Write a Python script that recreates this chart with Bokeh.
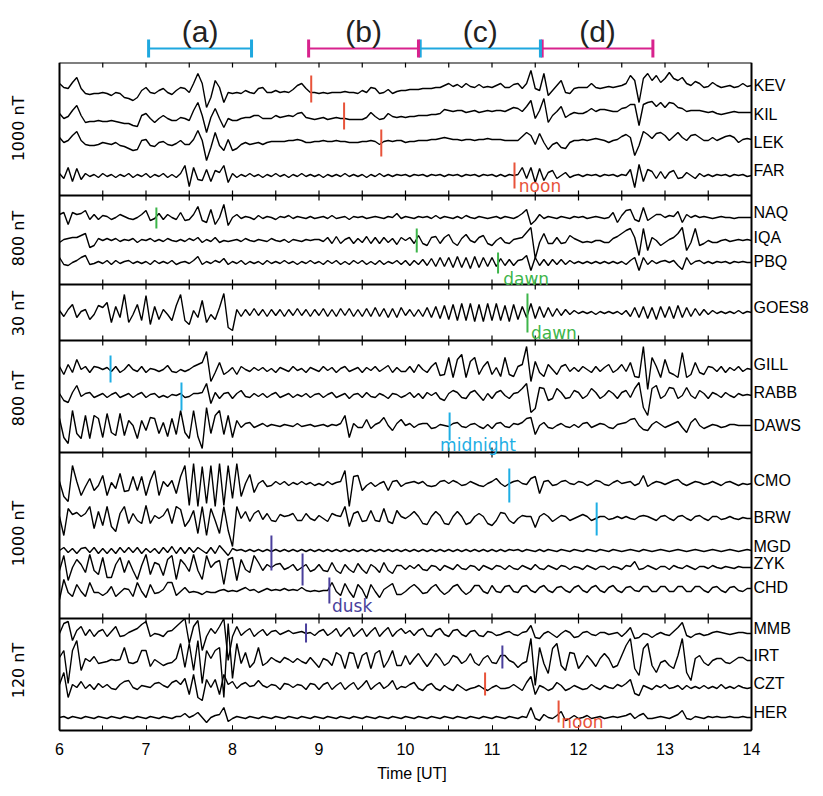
import numpy as np
from bokeh.plotting import figure
from bokeh.models import Range1d, Label, Span, SingleIntervalTicker
from bokeh.layouts import column
from bokeh.embed import file_html
from bokeh.resources import INLINE

T_START, T_STEP, N_SAMPLES = 6.0, 0.05, 161

KEV = [9,5,4,10,15,4,-1,-2,-1,-1,0,-1,-3,0,-1,-5,-6,-8,-5,2,
       5,0,-1,2,4,0,-2,2,5,4,0,9,19,9,-15,-5,12,5,-10,0,
       -1,0,-1,2,0,-1,4,5,0,0,2,0,1,0,3,7,9,4,0,0,
       -1,0,-1,0,0,0,1,0,0,-1,2,0,5,4,-1,0,3,-1,1,2,
       2,3,3,3,4,4,4,5,5,7,9,6,8,5,9,6,5,8,5,6,
       5,7,9,5,5,8,9,4,9,22,4,2,19,-3,2,7,12,0,-1,4,
       5,5,5,9,5,4,5,6,5,6,7,9,17,12,-10,14,19,12,17,10,
       14,20,14,12,15,9,7,11,9,5,6,10,7,5,6,7,5,6,9,6,
       7]
KIL = [7,2,4,10,15,5,-2,-1,-1,0,-1,-1,0,-1,-2,-3,-3,-5,-6,5,
       7,2,-2,2,5,2,0,0,3,2,0,10,18,5,-12,3,12,2,-7,2,
       0,0,2,3,3,5,5,2,2,2,5,3,4,5,4,7,8,3,2,1,
       2,3,1,2,3,2,2,1,1,1,1,3,8,4,1,2,7,4,3,4,
       3,4,4,5,5,5,6,6,7,11,10,9,10,10,8,9,10,8,9,10,
       9,10,10,9,11,13,12,9,14,20,2,10,22,-2,5,9,14,3,6,8,
       7,7,9,12,9,11,11,10,9,9,12,13,16,16,-5,16,18,19,14,18,
       13,18,17,13,12,9,10,10,10,9,8,9,7,6,7,8,9,8,8,8,
       8]
LEK = [5,0,2,7,11,2,-2,-3,-3,-2,0,-1,-2,0,-3,-4,-6,-8,-7,2,
       3,-3,-4,0,1,-2,-3,-1,2,-2,-2,3,12,2,-18,-5,10,-3,-8,3,
       -8,-6,-2,0,-2,-1,0,-2,0,1,1,1,1,2,2,3,2,0,0,1,
       1,2,1,1,2,1,1,0,0,0,1,1,2,1,-2,1,2,1,2,2,
       0,1,1,2,2,2,3,3,4,5,4,3,3,2,3,3,2,3,3,4,
       3,3,3,2,2,2,2,6,10,7,-2,9,0,-7,-2,0,-5,-6,0,2,
       2,3,2,3,4,3,2,0,2,3,6,8,5,-13,-3,11,8,4,9,10,
       7,2,6,10,5,2,7,8,5,2,2,5,2,4,6,7,5,0,3,4,
       3]
FAR = [2,-3,8,-6,7,-4,2,-1,1,-2,2,-1,1,-2,1,-1,2,-2,1,-1,
       2,-2,1,-1,2,-2,1,-2,2,10,-11,8,-4,-5,6,-6,5,3,10,-7,
       2,-2,1,-1,2,-1,1,-2,1,-1,2,-1,1,-2,1,-1,2,-1,1,-1,
       1,-2,1,-1,1,-1,2,-1,1,-1,1,-2,1,-1,2,-1,1,-1,1,0,
       1,-1,1,0,1,-1,1,0,1,-1,1,0,1,-1,1,0,1,-1,1,0,
       1,-1,1,-1,1,0,1,8,-3,8,-7,7,-5,3,5,-3,0,3,-2,0,
       1,-1,1,0,1,-1,1,0,1,-1,1,0,6,-12,11,-6,6,4,-3,4,
       -3,3,5,-3,-2,3,0,-3,2,-1,1,-1,1,0,1,-1,1,0,1,-1,
       0]
NAQ = [3,5,-7,5,3,4,7,-2,3,-2,2,1,-2,0,3,1,-1,-2,0,3,
       7,-3,-1,4,-2,3,0,-2,5,-3,-2,3,11,-3,-5,8,-7,0,13,-8,
       0,3,-1,1,0,-2,2,-1,1,0,-2,1,0,2,-1,1,0,-1,1,-1,
       0,1,-1,2,-1,0,1,-2,1,0,1,-1,0,1,0,-1,1,0,4,-1,
       1,0,-1,1,0,1,-1,2,-1,1,0,-1,1,-1,2,0,-1,1,0,-1,
       0,1,-1,1,0,-1,1,4,8,-7,-3,3,-1,1,0,-1,1,0,-1,1,
       0,1,-1,0,1,0,-1,0,5,-5,2,7,8,-2,-4,10,-3,0,3,3,
       0,2,1,6,-5,3,0,2,0,1,0,-1,0,1,0,0,-1,0,0,0,
       0]
IQA = [-2,1,2,3,3,5,7,-7,-5,2,0,2,0,2,-1,1,0,2,-2,1,
       0,2,-1,1,-1,2,0,-1,1,-1,2,0,3,-2,1,-1,3,-2,0,-1,
       0,1,-1,2,0,-1,1,0,-1,2,0,-1,1,-2,1,0,-1,1,0,1,
       1,-1,3,-3,4,-3,1,3,-3,2,-2,4,-3,3,-3,3,-2,2,-4,3,
       0,3,-3,5,-3,-5,3,4,-3,3,6,-2,-5,2,6,0,-2,3,5,-3,
       -5,0,3,-2,-3,1,2,3,8,13,-18,-2,7,-3,-3,3,-3,-2,5,2,
       0,-2,-1,-2,0,0,-2,-2,2,4,7,10,12,3,-15,12,-10,3,0,-5,
       -2,1,3,7,13,-10,-2,12,-5,-3,0,-2,-2,0,1,-1,0,1,0,1,
       0]
PBQ = [5,-2,-3,0,2,5,7,-2,-1,1,-1,2,-2,2,-1,1,2,-1,1,-1,
       1,-2,2,-1,1,-1,2,-2,0,1,-1,2,6,-2,1,-1,2,0,4,-2,
       1,-1,2,-2,1,-1,1,-2,2,-1,1,-1,2,-1,1,-2,1,-1,2,-1,
       1,-2,2,-1,2,-2,1,-2,2,-1,2,-2,1,-2,2,-2,1,-1,2,-2,
       2,-3,2,-2,3,-3,4,-4,5,-4,5,-5,6,-5,5,-6,6,-5,5,-4,
       5,-4,4,-3,3,-3,2,3,7,-8,5,-3,3,-3,3,-2,3,-2,2,-1,
       1,-1,1,-1,1,-1,1,-1,1,-1,1,-2,2,5,-8,5,-2,2,-1,1,
       2,0,2,-3,-7,5,-2,1,2,-1,1,-1,1,0,1,-1,1,0,1,0,
       0]
GOES8 = [2,-4,3,8,-5,1,3,-7,-2,7,5,10,-10,6,-5,18,-10,-2,8,-8,
         17,-12,6,-7,3,-2,-8,7,18,-8,-12,2,-5,12,-10,-2,-7,5,19,-15,
         -18,3,-4,3,-3,4,-3,3,-4,3,-3,3,-4,3,-3,4,-3,3,-4,3,
         -3,4,-4,3,-4,4,-3,4,-4,3,-4,4,-4,5,-4,4,-5,4,-5,5,
         -3,3,-4,3,-4,5,-5,6,-6,7,-7,8,-8,9,-8,9,-9,8,-9,9,
         -8,9,-8,7,-9,8,-7,6,-5,9,-6,6,-5,5,-4,4,-3,3,-2,2,
         -1,1,-1,1,-2,1,-1,1,-1,1,-2,2,-4,5,-5,6,-6,5,-7,6,
         -5,6,-6,7,-5,5,-4,4,-3,3,-2,2,-1,1,-1,1,-1,2,-1,1,
         0]
GILL = [3,-5,5,-3,10,0,3,-3,3,2,0,2,-2,3,-3,0,5,0,-2,3,
        -3,1,0,-2,0,4,-2,-3,0,-2,0,3,5,7,18,-12,-3,7,-5,-2,
        2,-5,3,0,-2,2,-1,2,-2,1,-3,2,0,-2,3,-1,1,-3,2,0,
        -2,3,-1,2,-3,1,3,-2,0,2,-3,2,-1,3,-2,1,4,-3,2,-2,
        -2,3,-3,5,0,-3,3,7,-6,-5,12,-8,10,15,-8,8,12,-5,3,8,
        -5,2,-7,12,-5,-7,3,5,23,-12,8,-3,-7,5,0,-5,3,5,-2,2,
        -2,3,0,-3,3,-2,2,5,-3,0,5,-2,7,-7,-8,23,-20,12,3,-8,
        10,-3,-5,-8,17,-8,-5,7,-3,-5,3,2,-2,3,-3,2,-1,3,-2,1,
        0]
RABB = [2,-5,-7,3,10,-1,2,3,-2,0,2,-2,1,3,-2,0,2,-2,1,3,
        -2,1,2,-2,0,-2,1,0,2,-2,-1,2,2,3,12,-8,3,-3,2,3,
        -3,2,5,-1,-2,2,-1,2,-2,1,3,-2,0,2,-2,1,-1,2,-2,1,
        2,-2,1,3,-2,0,2,-3,1,2,-2,3,-1,-2,2,0,-3,2,1,-2,
        0,3,-2,2,-3,3,0,3,-3,-5,2,5,3,-2,-3,3,5,0,-5,2,
        -3,3,5,0,-3,2,3,7,12,-17,-13,8,7,-5,-3,7,3,-3,-2,5,
        3,-3,0,7,3,-3,0,5,2,-3,3,5,-2,7,13,-12,-20,7,10,-3,
        0,8,7,-3,0,8,0,-3,5,2,-3,3,1,-2,3,0,-2,2,0,1,
        0]
DAWS = [7,-12,-18,15,-8,-13,10,-13,10,7,-12,12,-7,-10,12,-10,5,0,-13,5,
        -5,8,7,-8,3,-11,7,-9,15,-7,-13,15,-11,-23,18,-8,10,15,-9,10,
        -12,5,-2,2,3,-2,0,2,-1,1,0,-1,1,0,-1,2,-1,0,1,-1,
        0,1,-1,1,0,2,10,-12,2,-2,-2,6,-3,1,3,8,0,-5,2,6,
        0,2,-2,1,2,2,-3,-2,1,0,-1,2,3,-1,-2,1,2,-1,-3,1,
        -3,2,3,-1,-2,2,1,3,7,8,-9,0,3,-2,-3,0,2,-1,-2,1,
        -2,2,3,-2,0,2,1,-2,-3,1,2,3,6,7,0,-4,-5,1,4,1,
        -2,0,2,4,-2,-7,3,7,0,-3,-1,1,0,-2,-1,1,1,0,0,0,
        0]
CMO = [2,-13,-18,18,2,-12,-3,5,-7,-2,8,-12,1,-5,10,-8,-7,7,-7,7,
       -12,3,13,-12,2,-3,3,-10,7,18,-22,20,-23,17,-20,18,-23,20,-22,18,
       -15,20,-13,0,9,-9,0,3,-3,-2,2,-1,2,-2,1,-1,2,-1,1,-2,
       0,-2,2,-1,1,2,13,-23,7,8,-7,-2,1,-3,0,2,-7,2,3,-3,
       0,1,2,0,2,-2,-3,-2,2,3,0,3,1,-2,-1,2,0,-2,-3,0,
       2,5,0,-3,0,2,3,0,-1,5,7,-10,2,3,-2,-1,2,3,0,-1,
       2,1,-2,0,3,2,-1,-2,1,3,0,1,2,-2,0,8,-3,0,2,1,
       -1,1,3,4,0,-2,0,2,1,-1,0,2,0,-2,1,2,0,-2,0,-1,
       0]
BRW = [2,-17,10,4,6,2,5,12,-10,7,-7,12,-8,-13,5,12,-5,5,-2,-5,
       13,-5,3,0,3,10,-5,12,9,-8,-2,8,-15,12,-17,10,-2,-15,12,-12,
       -28,12,0,7,-3,5,8,-1,5,-2,-3,4,2,3,5,-2,-2,5,0,-2,
       3,0,-3,5,3,2,12,-8,5,7,-3,-2,8,-2,-3,10,-3,-5,8,2,
       0,3,7,2,-5,-6,2,7,3,-5,-6,2,7,2,-6,-4,2,5,2,-5,
       -7,-2,6,5,-2,-5,0,3,2,2,-9,2,5,2,-3,0,3,2,-2,0,
       2,4,2,-2,0,2,2,-1,0,2,0,2,0,-1,2,3,2,0,-2,2,
       3,0,-2,2,3,0,-2,2,3,0,-2,2,2,-1,0,2,0,-1,1,0,
       0]
MGD = [0,3,-2,2,-3,2,3,-2,3,-3,2,-3,2,-3,3,-2,3,-2,3,-3,
       2,-2,2,-3,3,-2,4,-3,3,-3,3,-2,3,0,-3,3,-3,5,0,-5,
       2,0,1,-1,1,-1,1,-1,1,-1,1,-1,1,-1,1,-1,1,-1,1,-1,
       1,-1,1,-1,1,-1,1,-1,1,-1,1,-1,1,-1,1,-1,1,-1,1,-1,
       1,-1,1,-1,1,-1,1,-1,1,-1,1,-1,1,-1,1,-1,1,-1,1,-1,
       1,-1,1,-1,1,0,1,-1,1,0,-1,1,-1,1,0,-1,1,0,-1,1,
       0,-1,1,0,-1,1,0,-1,1,0,-1,0,1,0,-1,1,0,-1,0,1,
       0,-1,0,1,0,-1,0,1,0,-1,0,1,0,-1,0,1,0,-1,0,1,
       0]
ZYK = [-3,12,-13,0,8,3,-5,13,-3,-7,10,-10,-10,3,10,-5,7,-3,-12,2,
       13,-7,5,3,-8,8,12,-12,8,3,-4,13,-3,-12,12,0,5,7,-17,8,
       10,-13,8,-2,-5,12,5,-3,3,0,3,4,-2,0,3,-3,0,3,-4,-2,
       3,-3,-4,5,-3,-6,3,-2,-5,4,-2,-6,3,0,-5,5,-3,-6,2,2,
       -2,2,-1,3,-2,-3,2,1,-3,2,0,-2,3,-1,-2,2,1,-3,2,0,
       -2,2,1,-2,2,-1,-2,2,0,-2,3,-1,-2,2,0,-2,2,1,-2,1,
       0,-2,2,0,-2,1,1,-2,1,0,-2,2,1,6,-2,-1,2,0,-2,1,
       1,-2,2,0,-1,2,0,-2,1,1,-1,2,0,-1,1,0,-1,1,0,0,
       0]
CHD = [-10,10,-3,-7,5,-2,-7,7,-3,-3,-6,-3,3,-7,-3,1,0,-7,7,-2,
       -8,5,-4,-3,0,7,7,-6,-2,2,-3,-2,-3,-5,-2,-3,-3,-1,0,-2,
       -1,-2,0,2,-1,0,-3,-1,1,-1,0,-1,1,-1,0,-1,2,-1,-2,-1,
       -2,-1,-1,7,-2,-6,6,-2,-8,5,0,-9,5,-2,-8,0,3,6,-5,-5,
       -2,2,5,1,-4,-3,2,5,-1,-5,-2,3,5,-1,-5,-2,4,4,-2,-4,
       4,-2,-3,3,4,-2,-3,3,4,-1,-3,2,4,-1,-3,2,3,-1,-3,2,
       4,-1,-3,2,4,-1,-3,2,4,-1,-3,2,3,-1,-2,3,3,-2,-2,3,
       3,-2,-2,3,3,-2,-2,3,3,-1,-3,2,3,-1,-3,2,3,-1,-2,1,
       1]
MMB = [0,10,12,-7,3,7,-2,4,-3,2,4,-3,2,7,-3,-2,1,3,5,9,
       12,-3,0,-1,-3,2,3,7,11,15,-10,7,13,-17,-3,5,0,7,15,-27,
       -3,7,-2,2,5,-3,1,4,-2,2,3,-1,1,3,0,1,2,0,1,-2,
       2,4,-2,1,5,-3,2,6,-3,1,5,-3,2,6,-3,2,6,-3,2,5,
       0,3,-2,3,5,-2,-3,3,5,-1,-3,3,4,-1,-3,2,3,-2,-3,2,
       1,-2,-1,1,2,-1,-2,1,2,8,-4,-5,0,2,-1,-4,0,3,1,-4,
       -3,1,2,-1,-2,1,1,-1,0,1,-3,1,6,-5,-4,0,-1,-4,-1,1,
       -1,-2,2,6,11,-2,-4,-1,0,-2,-1,1,2,1,0,-1,0,1,1,0,
       0]
IRT = [3,10,-23,10,20,-10,2,-1,4,-3,-2,-1,1,0,1,13,-2,-3,-1,10,
       10,-6,1,-2,-5,-3,-2,2,17,-7,17,-10,20,-23,10,2,10,13,-37,37,
       -18,17,-3,8,-7,-2,13,-5,-2,3,0,-2,3,1,-2,2,-1,-3,3,-2,
       -7,2,0,-5,8,5,-8,8,7,-8,5,8,-8,7,10,-7,0,10,-5,-5,
       5,-4,2,7,0,-6,0,7,2,-5,-2,5,3,-3,0,7,-2,-5,2,5,
       -2,-3,5,5,0,-2,-7,-3,-1,22,-25,13,-3,-13,12,17,-5,-10,8,7,
       -8,-2,5,0,-6,2,7,2,-7,-5,5,15,22,-8,-15,12,17,-5,-12,-2,
       0,-5,-8,5,22,-12,-20,2,5,-2,-5,0,2,2,-2,-3,0,3,3,0,
       0]
CZT = [3,15,-10,3,0,6,-1,3,-2,4,0,3,-1,-2,3,6,7,0,-2,2,
       1,0,4,5,2,0,5,7,3,9,-7,13,-10,-13,8,0,8,-7,13,3,
       6,-1,3,5,1,2,7,2,0,3,2,-2,4,3,0,3,2,-2,4,3,
       -2,3,5,-2,2,5,-2,2,5,-2,2,7,-2,2,5,-1,2,7,-2,1,
       0,3,5,-1,-3,2,4,-1,-3,2,-1,-3,3,0,-3,-1,0,2,-1,-3,
       0,2,-1,-1,0,3,0,-3,5,11,-7,2,0,-3,-1,5,2,-3,-1,2,
       0,-2,-1,3,0,-2,2,0,-1,3,1,4,8,-6,-8,2,0,-2,2,0,
       3,-1,0,2,-2,2,-1,1,-1,2,-1,1,-1,3,-1,1,-1,2,0,-1,
       0]
HER = [0,1,-1,1,0,-1,1,0,-1,1,0,-1,1,0,-1,1,0,-1,1,0,
       -1,1,0,-1,1,0,-1,1,1,4,0,2,5,0,-5,0,2,3,10,-4,
       -1,1,0,-1,1,0,-1,1,0,-1,1,0,-1,1,0,-1,1,0,-1,1,
       0,-1,1,0,-1,1,0,-1,1,0,-1,1,0,-1,1,0,-1,1,0,-1,
       1,0,-1,1,0,-1,1,0,-1,1,0,-1,1,0,-1,1,0,-1,1,0,
       -1,1,0,-1,1,0,-1,1,0,10,-1,-3,3,0,-1,2,6,-3,-1,2,
       -1,0,2,-1,0,1,-1,0,1,0,1,2,4,-1,2,4,-1,-1,0,1,
       0,-1,1,3,7,-1,-2,1,0,-1,1,0,1,0,0,1,0,0,1,0,
       0]

stations = ["KEV", "KIL", "LEK", "FAR", "NAQ", "IQA", "PBQ", "GOES8", "GILL", "RABB", "DAWS",
            "CMO", "BRW", "MGD", "ZYK", "CHD", "MMB", "IRT", "CZT", "HER"]
series = [KEV, KIL, LEK, FAR, NAQ, IQA, PBQ, GOES8, GILL, RABB, DAWS,
          CMO, BRW, MGD, ZYK, CHD, MMB, IRT, CZT, HER]

panel_scales = ["1000 nT", "800 nT", "30 nT", "800 nT", "1000 nT", "120 nT"]

period_names = ["(a)", "(b)", "(c)", "(d)"]
period_start = [7.03, 8.88, 10.17, 11.58]
period_end = [8.22, 10.15, 11.56, 12.86]

marker_time = [8.91, 9.29, 9.72, 11.26, 7.12, 10.13, 11.07, 11.41, 6.59, 7.41,
               10.51, 11.20, 12.21, 8.45, 8.81, 9.12, 8.85, 11.12, 10.92, 11.77]
marker_kind = ["noon", "noon", "noon", "noon", "dawn", "dawn", "dawn", "dawn", "midnight", "midnight",
               "midnight", "midnight", "midnight", "dusk", "dusk", "dusk", "dusk", "dusk", "noon", "noon"]

# ---------------- layout (pixel positions on the page) ----------------
W, H = 823, 796
FRAME_L, FRAME_R = 59, 751            # page x of 6 UT and 14 UT
PX_PER_H = (FRAME_R - FRAME_L) / 8.0
baseline = [92, 120, 142, 175, 217, 240, 262, 312, 369, 395, 425,
            483, 518, 550, 567, 589, 633, 660, 687, 717]
label_y = [85, 114, 142, 170, 212, 237, 261, 307, 364, 392, 425,
           480, 517, 546, 563, 587, 628, 655, 683, 712]
panel_edges = [62, 195, 284, 340, 452, 618, 730]
scale_y = [128, 238, 313, 398, 533, 670]
marker_top = [75, 102, 129, 162, 207, 228, 252, 293, 355, 382, 412, 468, 502, 535, 553, 577, 623, 645, 672, 700]
marker_bot = [102, 129, 156, 188, 228, 252, 273, 332, 382, 410, 440, 502, 535, 570, 585, 603, 642, 668, 695, 722]
kind_color = {"noon": "#e8533a", "dawn": "#3db54a", "midnight": "#1eaee4", "dusk": "#4a3f9c"}
word_pos = [("noon", 11.31, 185), ("dawn", 11.13, 278), ("dawn", 11.45, 332),
            ("midnight", 10.40, 444), ("dusk", 9.15, 605), ("noon", 11.80, 721)]
period_colors = ["#1fa8df", "#d8228d", "#1fa8df", "#d8228d"]

TOP_H = 60
MAIN_TOP_BORDER = 2
MAIN_FRAME_H = panel_edges[-1] - panel_edges[0]
MAIN_BOTTOM_BORDER = H - TOP_H - MAIN_TOP_BORDER - MAIN_FRAME_H
TICK = 5

times = np.round(T_START + T_STEP * np.arange(N_SAMPLES), 3)

x_lo = 6 - FRAME_L / PX_PER_H
x_hi = 14 + (W - FRAME_R) / PX_PER_H
xr = Range1d(x_lo, x_hi)

def px_to_x(px):
    return x_lo + px / PX_PER_H

# ---------------- top strip with the interval brackets ----------------
pt = figure(x_range=xr, y_range=Range1d(TOP_H, 0), frame_width=W, frame_height=TOP_H,
            min_border_left=0, min_border_right=0, min_border_top=0, min_border_bottom=0,
            x_axis_location=None, y_axis_location=None, output_backend="svg", toolbar_location=None)
pt.outline_line_color = None
pt.xgrid.visible = False
pt.ygrid.visible = False
pt.segment(x0=period_start, y0=[48] * 4, x1=period_end, y1=[48] * 4, line_color=period_colors, line_width=2)
pt.segment(x0=period_start, y0=[39] * 4, x1=period_start, y1=[57] * 4, line_color=period_colors, line_width=3)
pt.segment(x0=period_end, y0=[39] * 4, x1=period_end, y1=[57] * 4, line_color=period_colors, line_width=3)
for name, a, b in zip(period_names, period_start, period_end):
    pt.add_layout(Label(x=(a + b) / 2, y=31, text=name, text_align="center", text_baseline="middle",
                        text_font="Liberation Sans", text_font_size="30px", text_color="#222222"))

# ---------------- main stacked panels ----------------
p = figure(x_range=xr, y_range=Range1d(panel_edges[-1], panel_edges[0]), frame_width=W, frame_height=MAIN_FRAME_H,
           min_border_left=0, min_border_right=0, min_border_top=MAIN_TOP_BORDER,
           min_border_bottom=MAIN_BOTTOM_BORDER,
           y_axis_location=None, output_backend="svg", toolbar_location=None)
p.xgrid.visible = False
p.ygrid.visible = False
p.outline_line_color = None

ax = p.xaxis[0]
ax.bounds = (6, 14)
ax.ticker = SingleIntervalTicker(interval=1, num_minor_ticks=2)
ax.major_tick_in = TICK
ax.major_tick_out = 0
ax.minor_tick_in = TICK
ax.minor_tick_out = 0
ax.axis_line_width = 2
ax.major_label_text_font = "Liberation Sans"
ax.major_label_text_font_size = "16px"
ax.major_label_text_color = "black"
ax.major_label_standoff = 12
ax.axis_label = "Time [UT]"
ax.axis_label_text_font = "Liberation Sans"
ax.axis_label_text_font_size = "16px"
ax.axis_label_text_font_style = "normal"
ax.axis_label_text_color = "black"
ax.axis_label_standoff = 7

# frame sides
p.add_layout(Span(location=6, dimension="height", line_color="black", line_width=2))
p.add_layout(Span(location=14, dimension="height", line_color="black", line_width=2))

# top edge and panel separators, with inward ticks every half hour
half_hours = np.arange(6.5, 14.0, 0.5)
n = len(half_hours)
edges = panel_edges[:-1]
p.segment(x0=[6] * len(edges), y0=edges, x1=[14] * len(edges), y1=edges, line_color="black", line_width=2)
for i, e in enumerate(edges):
    upper = e if i == 0 else e - TICK
    p.segment(x0=half_hours, y0=[upper] * n, x1=half_hours, y1=[e + TICK] * n, line_color="black", line_width=1.2)

# traces
for name, vals, base in zip(stations, series, baseline):
    y = base - np.array(vals, dtype=float)
    p.line(times, y, line_color="black", line_width=1.4)

# station names at the right
for name, ly in zip(stations, label_y):
    p.add_layout(Label(x=px_to_x(FRAME_R + 2), y=ly, text=name, text_baseline="middle", text_align="left",
                       text_font="Liberation Sans", text_font_size="16px", text_color="black"))

# local time markers
mcol = [kind_color[k] for k in marker_kind]
p.segment(x0=marker_time, y0=marker_top, x1=marker_time, y1=marker_bot, line_color=mcol, line_width=2)
for word, wx, wy in word_pos:
    p.add_layout(Label(x=wx, y=wy, text=word, text_baseline="middle", text_align="left",
                       text_font="DejaVu Sans", text_font_size="17px", text_color=kind_color[word]))

# panel scale labels on the left
for txt, sy in zip(panel_scales, scale_y):
    p.add_layout(Label(x=px_to_x(18), y=sy, text=txt, angle=np.pi / 2,
                       text_align="center", text_baseline="middle",
                       text_font="DejaVu Sans", text_font_size="16px", text_color="black"))

layout = column(pt, p, spacing=0)
open("out.html", "w").write(file_html(layout, INLINE))
